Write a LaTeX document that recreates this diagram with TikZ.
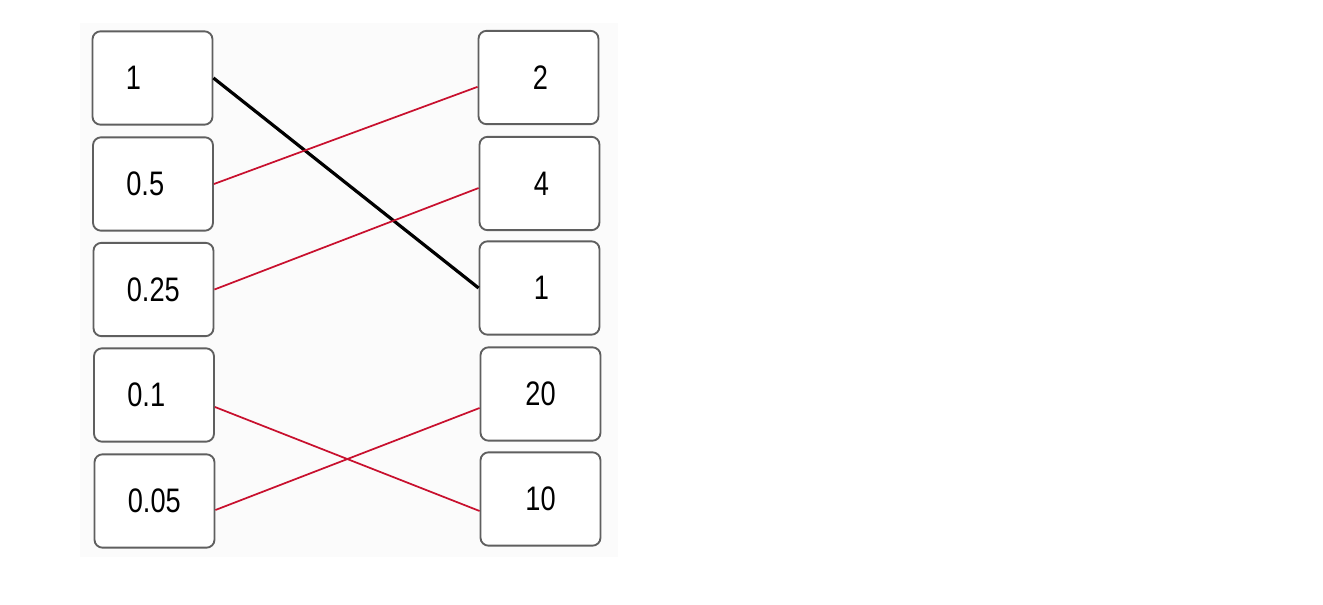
\documentclass[tikz,border=0pt]{standalone}
\usepackage{fontspec}
\setmainfont{Liberation Sans}[FakeStretch=0.8]
\definecolor{linkred}{RGB}{200,16,46}
\definecolor{boxgray}{RGB}{95,95,95}
\definecolor{panel}{RGB}{251,251,251}
\begin{document}
\begin{tikzpicture}[x=0.75pt,y=-0.75pt,
  box/.style={draw=boxgray,line width=1.4pt,rounded corners=6pt,fill=white,
    minimum width=90pt,minimum height=70pt,font=\fontsize{25.5pt}{30pt}\selectfont},
  lbox/.style={box,inner xsep=0pt,text width=90pt,align=left},
  rbox/.style={box,align=center},
  redlink/.style={draw=linkred,line width=1.3pt},
  blacklink/.style={draw=black,line width=2.4pt}]
\useasboundingbox (0,0) rectangle (1323,605);
\fill[panel] (80,23) rectangle (618,557);
% left column
\node[lbox] (l1) at (152.5,78) {\hspace*{25pt}1};
\node[lbox] (l2) at (153,184) {\hspace*{25pt}0.5};
\node[lbox] (l3) at (153.5,289.5) {\hspace*{25pt}0.25};
\node[lbox] (l4) at (154,395) {\hspace*{25pt}0.1};
\node[lbox] (l5) at (154.5,501) {\hspace*{25pt}0.05};
% right column
\node[rbox] (r1) at (538.5,77.5) {\hspace*{3pt}2};
\node[rbox] (r2) at (539.5,183.5) {\hspace*{3pt}4};
\node[rbox] (r3) at (539.5,288) {\hspace*{3pt}1};
\node[rbox] (r4) at (540.5,394) {20};
\node[rbox] (r5) at (540.5,499) {10};
% connectors
\draw[blacklink] (l1.east) -- (r3.west);
\draw[redlink] (l2.east) -- ([yshift=-7pt]r1.west);
\draw[redlink] (l3.east) -- ([yshift=-3.4pt]r2.west);
\draw[redlink] ([yshift=-9pt]l4.east) -- ([yshift=-9pt]r5.west);
\draw[redlink] ([yshift=-6.75pt]l5.east) -- ([yshift=-10.5pt]r4.west);
\end{tikzpicture}
\end{document}
